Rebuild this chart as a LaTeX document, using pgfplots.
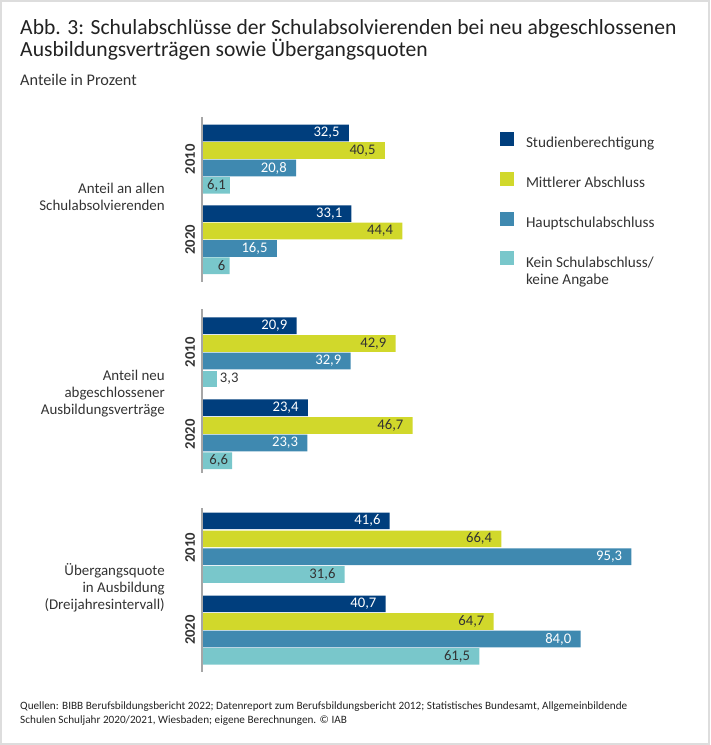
\documentclass[border=0pt]{standalone}
\usepackage{fontspec}
\setmainfont{Carlito}
\usepackage{pgfplots}
\pgfplotsset{compat=1.18}

\definecolor{cStud}{HTML}{003E7D}
\definecolor{cMitt}{HTML}{D1D82B}
\definecolor{cHaupt}{HTML}{3F89B0}
\definecolor{cKein}{HTML}{79C7CB}
\definecolor{txt}{HTML}{333333}
\definecolor{ttl}{HTML}{222222}
\definecolor{axgray}{HTML}{A6A6A6}
\definecolor{frame}{HTML}{DDDDDD}

% 1 px = 0.75pt; x: 0 at px 202.5, 4.5 px per percent; y: pixel row
\begin{document}
\begin{tikzpicture}
\begin{axis}[
  scale only axis, width=532.5pt, height=558.75pt,
  xmin=-45, xmax=112.7778, ymin=0, ymax=745, y dir=reverse,
  hide axis, clip=false,
  xbar, bar width=16.6, bar shift=0pt,
  point meta=explicit symbolic,
  nodes near coords,
  nodes near coords style={font=\fontsize{11}{12}\selectfont, anchor=east, inner sep=0pt, xshift=-6.75pt},
  legend image code/.code={\fill[#1] (0pt,-1.55pt) rectangle (10.5pt,8.95pt);},
  legend style={at={(axis cs:66.11,131.4)}, anchor=north west, draw=none, fill=none,
    inner sep=0pt, row sep=16pt, column sep=8.8pt, cells={anchor=west},
    font=\fontsize{11.4}{12.6}\selectfont, text=txt,
    nodes={inner sep=0pt, text height=8pt, text depth=2pt}},
]

\addplot[fill=cStud, draw=none, nodes near coords style={text=white}] coordinates {
  (32.5,133)   [{32,5}]
  (33.1,213.7) [{33,1}]
  (20.9,325.7) [{20,9}]
  (23.4,407.7) [{23,4}]
  (41.6,520.8) [{41,6}]
  (40.7,603.8) [{40,7}]
};
\addlegendentry{Studienberechtigung}

\addplot[fill=cMitt, draw=none, nodes near coords style={text=txt}] coordinates {
  (40.5,150.5) [{40,5}]
  (44.4,231)   [{44,4}]
  (42.9,343.5) [{42,9}]
  (46.7,425.5) [{46,7}]
  (66.4,538.8) [{66,4}]
  (64.7,621.5) [{64,7}]
};
\addlegendentry{Mittlerer Abschluss}

\addplot[fill=cHaupt, draw=none, nodes near coords style={text=white}] coordinates {
  (20.8,168)   [{20,8}]
  (16.5,248.5) [{16,5}]
  (32.9,361)   [{32,9}]
  (23.3,443)   [{23,3}]
  (95.3,556.7) [{95,3}]
  (84.0,639)   [{84,0}]
};
\addlegendentry{Hauptschulabschluss}

\addplot[fill=cKein, draw=none, nodes near coords style={text=txt}] coordinates {
  (31.6,574.5) [{31,6}]
  (61.5,656.3) [{61,5}]
};
\addlegendentry{\parbox[t]{120pt}{\raggedright Kein Schulabschluss/\\keine Angabe}}

\addplot[fill=cKein, draw=none, forget plot, nodes near coords style={text=txt, xshift=3.75pt}] coordinates {
  (6.1,185.3) [{6,1}]
  (6,265.7)   [{6}]
  (6.6,460.7) [{6,6}]
};
\addplot[fill=cKein, draw=none, forget plot, nodes near coords style={text=txt, anchor=west, xshift=8.5pt}] coordinates {
  (3.3,378.8) [{3,3}]
};

% frame and bounding box
\path (rel axis cs:0,0) (rel axis cs:1,1);
\draw[frame, line width=1.5pt] (axis cs:-44.667,1.5) rectangle (axis cs:112.444,743.5);

% group axis lines
\draw[axgray, line width=1.3pt] (axis cs:-0.18,117) -- (axis cs:-0.18,282);
\draw[axgray, line width=1.3pt] (axis cs:-0.18,309) -- (axis cs:-0.18,473);
\draw[axgray, line width=1.3pt] (axis cs:-0.18,508) -- (axis cs:-0.18,672);

% year labels
\begin{scope}[every node/.style={rotate=90, anchor=center, inner sep=0pt, text=txt, font=\fontsize{11}{12}\selectfont\bfseries}]
\node at (axis cs:-2.78,159.2) {2010};
\node at (axis cs:-2.78,239.7) {2020};
\node at (axis cs:-2.78,352.3) {2010};
\node at (axis cs:-2.78,434.2) {2020};
\node at (axis cs:-2.78,547.7) {2010};
\node at (axis cs:-2.78,630.1) {2020};
\end{scope}

% group labels
\begin{scope}[every node/.style={anchor=east, align=right, inner sep=0pt, text=txt, font=\fontsize{11.2}{12.75}\selectfont}]
\node at (axis cs:-8.33,197) {Anteil an allen\\Schulabsolvierenden};
\node at (axis cs:-8.33,393.5) {Anteil neu\\abgeschlossener\\Ausbildungsverträge};
\node at (axis cs:-8.33,588) {Übergangsquote\\in Ausbildung\\(Dreijahresintervall)};
\end{scope}

% title, subtitle, source
\begin{scope}[every node/.style={anchor=base west, inner sep=0pt}]
\node[text=ttl, font=\fontsize{16.2}{18}\selectfont] at (axis cs:-40.56,34.3) {Abb. 3: Schulabschlüsse der Schulabsolvierenden bei neu abgeschlossenen};
\node[text=ttl, font=\fontsize{16.2}{18}\selectfont] at (axis cs:-40.56,57) {Ausbildungsverträgen sowie Übergangsquoten};
\node[text=txt, font=\fontsize{12.2}{13}\selectfont] at (axis cs:-40.56,86) {Anteile in Prozent};
\node[text=ttl, font=\fontsize{8.4}{10}\selectfont] at (axis cs:-40.56,709.5) {Quellen: BIBB Berufsbildungsbericht 2022; Datenreport zum Berufsbildungsbericht 2012; Statistisches Bundesamt, Allgemeinbildende};
\node[text=ttl, font=\fontsize{8.4}{10}\selectfont] at (axis cs:-40.56,723) {Schulen Schuljahr 2020/2021, Wiesbaden; eigene Berechnungen. © IAB};
\end{scope}
\end{axis}
\end{tikzpicture}
\end{document}
